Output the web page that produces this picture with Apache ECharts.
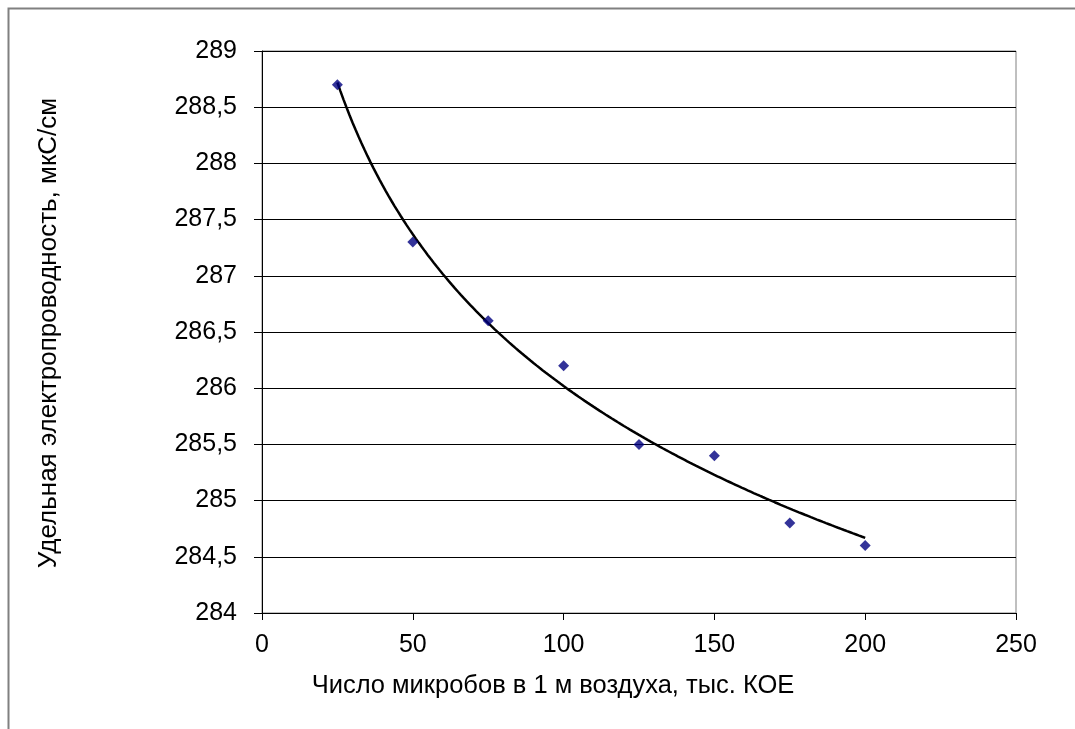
<!DOCTYPE html>
<html><head><meta charset="utf-8">
<script src="https://cdn.jsdelivr.net/npm/echarts@6/dist/echarts.min.js"></script>
<style>html,body{margin:0;padding:0;background:#fff}#c{width:1075px;height:729px}</style>
</head><body><div id="c"></div>
<script>
var xValues = [25, 50, 75, 100, 125, 150, 175, 200];
var yValues = [288.7, 287.3, 286.6, 286.2, 285.5, 285.4, 284.8, 284.6];
var xTitle = 'Число микробов в 1 м воздуха, тыс. КОЕ';
var yTitle = 'Удельная электропроводность, мкС/см';

// logarithmic least-squares trendline (as in the original spreadsheet chart)
var n = xValues.length, mlx = 0, my = 0;
for (var i = 0; i < n; i++) { mlx += Math.log(xValues[i]); my += yValues[i]; }
mlx /= n; my /= n;
var sxy = 0, sxx = 0;
for (var i = 0; i < n; i++) { var d = Math.log(xValues[i]) - mlx; sxy += d * (yValues[i] - my); sxx += d * d; }
var slope = sxy / sxx, icpt = my - slope * mlx;
var trend = [];
for (var x = xValues[0]; x <= xValues[n - 1]; x += 1) trend.push([x, icpt + slope * Math.log(x)]);

var chart = echarts.init(document.getElementById('c'));
var fontFam = 'Liberation Sans, Arial, sans-serif';
chart.setOption({
  animation: false,
  grid: { left: 262, right: 59, top: 51, bottom: 116, show: true, borderColor: '#808080', borderWidth: 1 },
  xAxis: {
    type: 'value', min: 0, max: 250, interval: 50,
    axisLine: { show: true, onZero: false, lineStyle: { color: '#000', width: 1 } },
    axisTick: { show: true, length: 7, inside: false, lineStyle: { color: '#000' } },
    axisLabel: { color: '#000', fontSize: 25, fontFamily: fontFam, margin: 20 },
    splitLine: { show: false }
  },
  yAxis: {
    type: 'value', min: 284, max: 289, interval: 0.5,
    axisLine: { show: true, lineStyle: { color: '#000', width: 1 } },
    axisTick: { show: true, length: 8, lineStyle: { color: '#000' } },
    axisLabel: { color: '#000', fontSize: 25, fontFamily: fontFam, margin: 25,
      formatter: function (v) { return String(Math.round(v * 10) / 10).replace('.', ','); } },
    splitLine: { show: true, lineStyle: { color: '#000', width: 1 } }
  },
  graphic: [
    { type: 'rect', shape: { x: 8.5, y: 8.5, width: 1200, height: 800 }, style: { fill: 'none', stroke: '#808080', lineWidth: 2 }, silent: true },
    { type: 'text', x: 553, y: 686, style: { text: xTitle, fill: '#000', font: '25.5px ' + fontFam, textAlign: 'center', textVerticalAlign: 'middle' } },
    { type: 'text', x: 49, y: 333, rotation: Math.PI / 2, style: { text: yTitle, fill: '#000', font: '26px ' + fontFam, textAlign: 'center', textVerticalAlign: 'middle' } }
  ],
  series: [
    { type: 'line', data: trend, showSymbol: false, smooth: false, lineStyle: { color: '#000', width: 2.5 }, z: 2 },
    { type: 'scatter', data: xValues.map(function (x, i) { return [x, yValues[i]]; }), symbol: 'diamond', symbolSize: 11, itemStyle: { color: '#000080' }, z: 3 }
  ]
});
</script></body></html>
